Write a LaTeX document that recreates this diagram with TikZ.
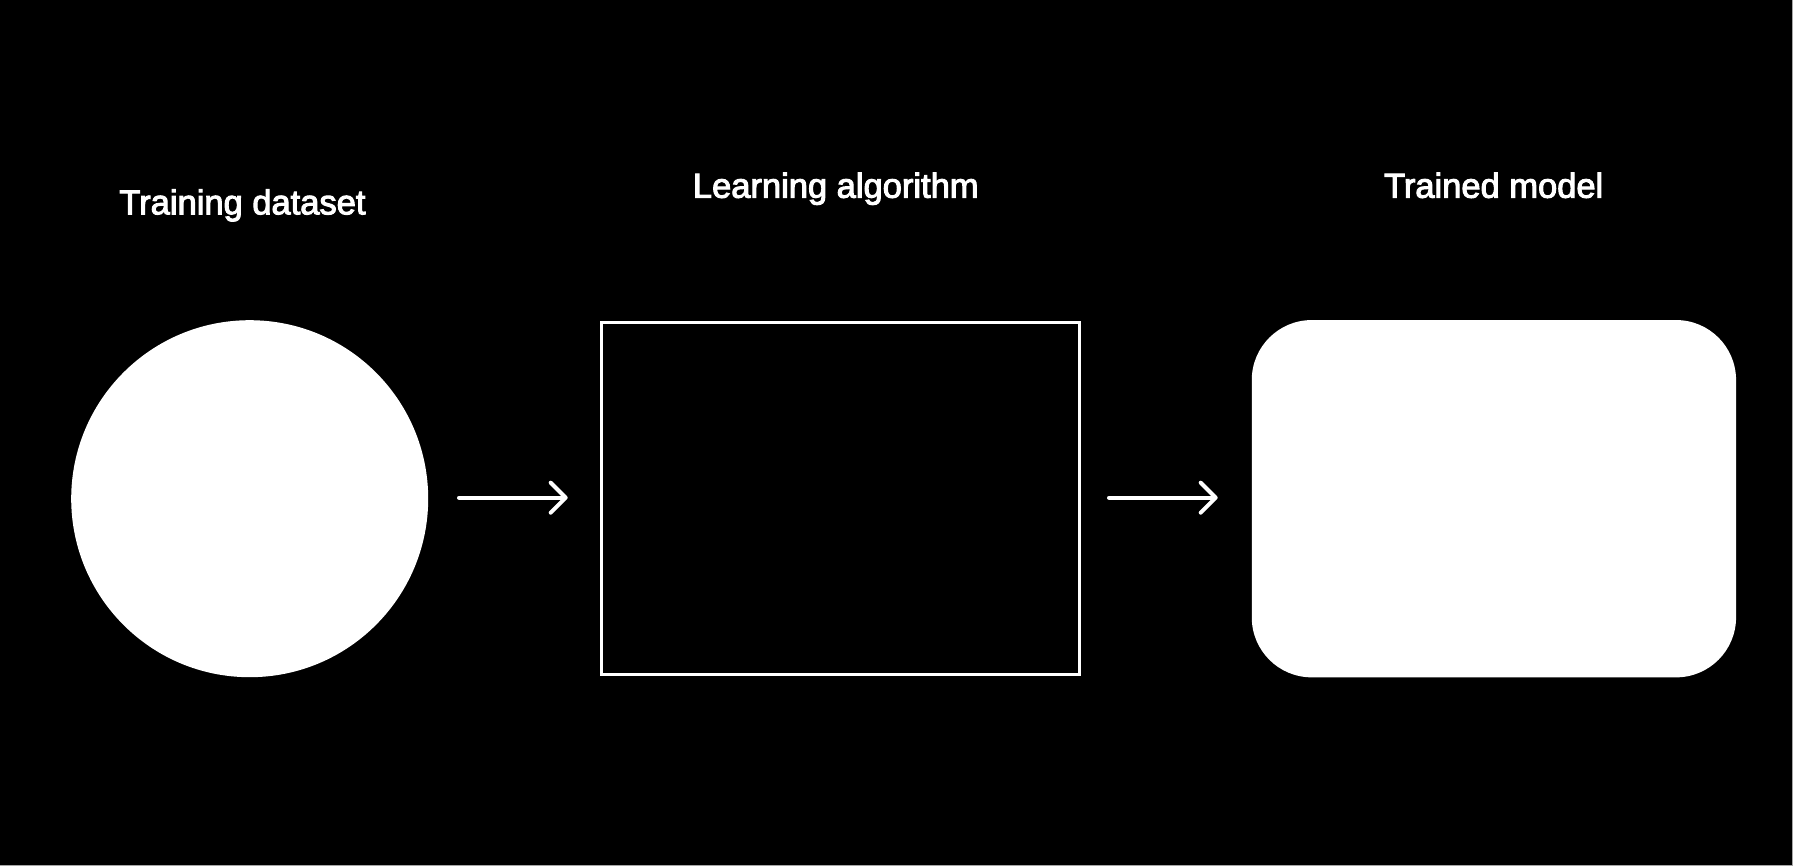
\documentclass[tikz,border=0pt]{standalone}
\usepackage{fontspec}
\setmainfont{Liberation Sans}
\newfontfamily\lblfont{Liberation Sans}[FakeBold=3]
\usetikzlibrary{arrows.meta}
\begin{document}
\begin{tikzpicture}[x=1pt,y=-1pt,
  lbl/.style={text=white,font=\lblfont\fontsize{34.5}{40}\selectfont,anchor=base,inner sep=0pt},
  arr/.style={draw=white,line width=4pt,line cap=round,line join=round,
    -{Straight Barb[length=15pt,width=30pt,line cap=round,line join=round]}}]
\fill[black] (0,0) rectangle (1793,866);
\useasboundingbox (0,0) rectangle (1793,866);
\draw[gray!70,line width=1pt] (1792.5,0) -- (1792.5,865.5) -- (0,865.5);
\node[circle,fill=white,minimum size=357pt,inner sep=0pt] (ds) at (249.7,498.7) {};
\node[rectangle,draw=white,line width=3pt,minimum width=478.3pt,minimum height=352pt,inner sep=0pt] (alg) at (840.6,498.5) {};
\node[rectangle,fill=white,rounded corners=60pt,minimum width=484.3pt,minimum height=357.3pt,inner sep=0pt] (mdl) at (1493.9,498.7) {};
\node[lbl] (t1) at (242.5,214.3) {Training dataset};
\node[lbl] (t2) at (835.8,197.7) {Learning algorithm};
\node[lbl] (t3) at (1493.7,197.7) {Trained model};
\coordinate (a1s) at (459,497.7);
\coordinate (a1e) at (567.7,497.7);
\coordinate (a2s) at (1109,497.7);
\coordinate (a2e) at (1217.7,497.7);
\draw[arr] (a1s) -- (a1e);
\draw[arr] (a2s) -- (a2e);
\end{tikzpicture}
\end{document}
